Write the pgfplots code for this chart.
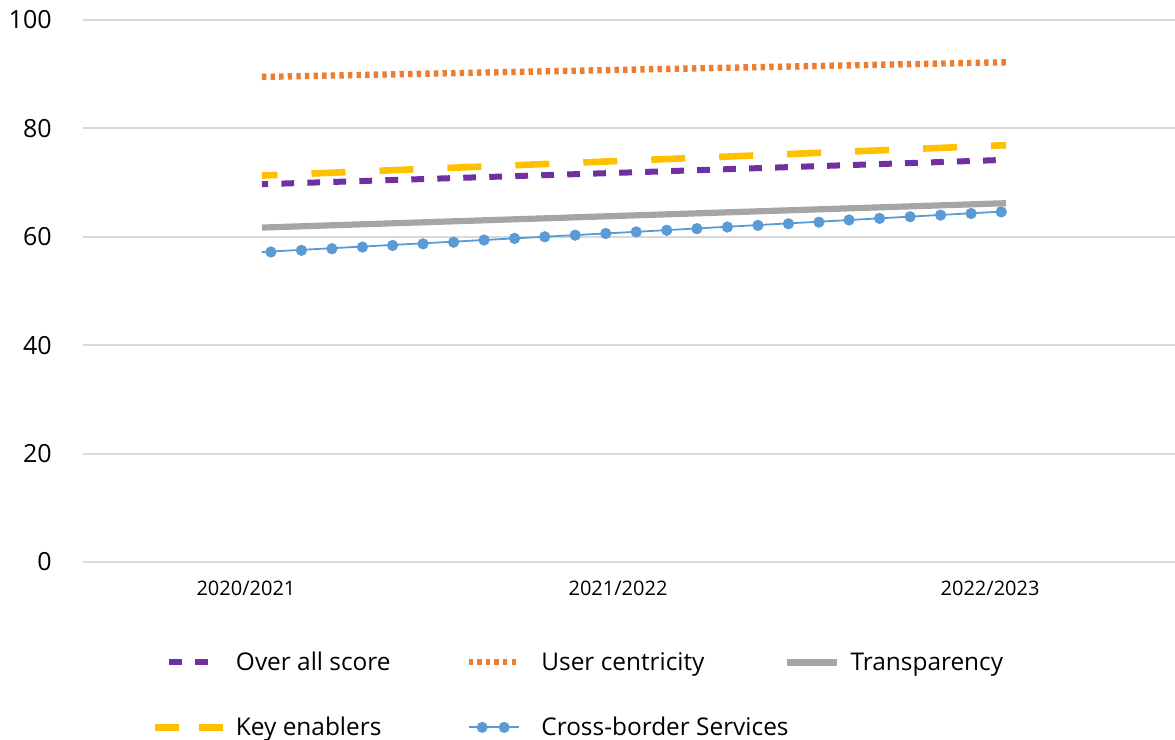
\documentclass[border=0pt]{standalone}
\usepackage{fontspec}
\setmainfont{Open Sans}
\usepackage{pgfplots}
\pgfplotsset{compat=1.18}
\definecolor{ovpurple}{HTML}{7030A0}
\definecolor{ucorange}{HTML}{ED7D31}
\definecolor{trgray}{HTML}{A5A5A5}
\definecolor{keyellow}{HTML}{FFC000}
\definecolor{cbblue}{HTML}{5B9BD5}
\definecolor{gridgray}{HTML}{D9D9D9}

% legend text in a fixed-width box with a strut, so columns and rows line up
\newcommand{\lgtext}[2]{\makebox[#1][l]{\rule[-3pt]{0pt}{12.5pt}#2}}

\begin{document}
\begin{tikzpicture}
\useasboundingbox (0,0) rectangle (587.5pt,370pt);
\begin{axis}[
  at={(41.5pt,89pt)}, anchor=south west,
  scale only axis, width=546pt, height=271pt,
  xmin=-0.481, xmax=2.454, ymin=0, ymax=100,
  axis line style={draw=none},
  major tick length=0pt, tick style={draw=none},
  xtick={0,1,2}, xticklabels={2020/2021,2021/2022,2022/2023},
  ytick={0,20,...,100},
  ymajorgrids, grid style={gridgray, line width=1pt},
  /pgf/number format/assume math mode=true,
  xticklabel style={font=\fontsize{10}{12}\selectfont, anchor=base, inner sep=0pt, yshift=-17pt, xshift=-8pt},
  yticklabel style={font=\fontsize{12.5}{15}\selectfont, anchor=east, inner sep=0pt, xshift=-15.5pt},
  legend columns=3,
  legend style={draw=none, fill=none, inner sep=0pt,
    at={(0,0)}, anchor=north west, xshift=34pt, yshift=-44.5pt,
    font=\fontsize{12.2}{15}\selectfont,
    nodes={inner sep=0pt}, row sep=21.5pt,
    /tikz/every odd column/.append style={column sep=5pt}},
]
\addplot[ovpurple, line width=3pt, dash pattern=on 6.4pt off 6.6pt, dash phase=3.3pt,
  legend image code/.code={
    \path (0pt,0pt) (34pt,0pt);
    \draw[solid, ovpurple, line width=3pt] (7.25pt,0pt) -- (13.75pt,0pt) (20.25pt,0pt) -- (26.75pt,0pt);}]
  coordinates {(0,69.7)(1,71.9)(2,74.2)};
\addlegendentry{\lgtext{110.5pt}{Over all score}}

\addplot[ucorange, line width=3.2pt, dash pattern=on 2.2pt off 2.1pt,
  legend image code/.code={
    \path (0pt,0pt) (34pt,0pt);
    \draw[ucorange, line width=3pt, dash pattern=on 2.2pt off 2.1pt] (4.25pt,0pt) -- (29.75pt,0pt);}]
  coordinates {(0,89.5)(1,90.85)(2,92.2)};
\addlegendentry{\lgtext{112.5pt}{User centricity}}

\addplot[trgray, line width=3.1pt,
  legend image code/.code={
    \path (0pt,0pt) (34pt,0pt);
    \draw[solid, trgray, line width=3.1pt] (9pt,0pt) -- (34pt,0pt);}]
  coordinates {(0,61.7)(1,63.95)(2,66.2)};
\addlegendentry{\lgtext{80pt}{Transparency}}

\addplot[keyellow, line width=3.3pt, dash pattern=on 17pt off 17pt, dash phase=9.2pt,
  legend image code/.code={
    \path (0pt,0pt) (34pt,0pt);
    \draw[solid, keyellow, line width=3.3pt] (0pt,0pt) -- (12pt,0pt) (22pt,0pt) -- (34pt,0pt);}]
  coordinates {(0,71.3)(1,74.1)(2,76.9)};
\addlegendentry{\lgtext{110.5pt}{Key enablers}}

\addplot[cbblue, line width=0.9pt,
  legend image code/.code={
    \path (0pt,0pt) (34pt,0pt);
    \draw[solid, cbblue, line width=1pt] (4.5pt,0pt) -- (29.5pt,0pt);
    \fill[cbblue] (11pt,0pt) circle (2.3pt) (22pt,0pt) circle (2.3pt);}]
  coordinates {(0,57.2)(1,60.9)(2,64.7)};
\addlegendentry{\lgtext{112.5pt}{Cross-border Services}}

\addplot[only marks, mark=*, mark size=2.6pt, cbblue, forget plot] coordinates {
  (0.024,57.2)(0.106,57.5)(0.188,57.8)(0.270,58.1)(0.351,58.4)
  (0.433,58.7)(0.515,59.0)(0.597,59.4)(0.679,59.7)(0.760,60.0)
  (0.842,60.3)(0.924,60.6)(1.006,60.9)(1.088,61.2)(1.169,61.5)
  (1.251,61.8)(1.333,62.1)(1.415,62.4)(1.497,62.7)(1.578,63.1)
  (1.660,63.4)(1.742,63.7)(1.824,64.0)(1.906,64.3)(1.987,64.6)
};
\end{axis}
\end{tikzpicture}
\end{document}
